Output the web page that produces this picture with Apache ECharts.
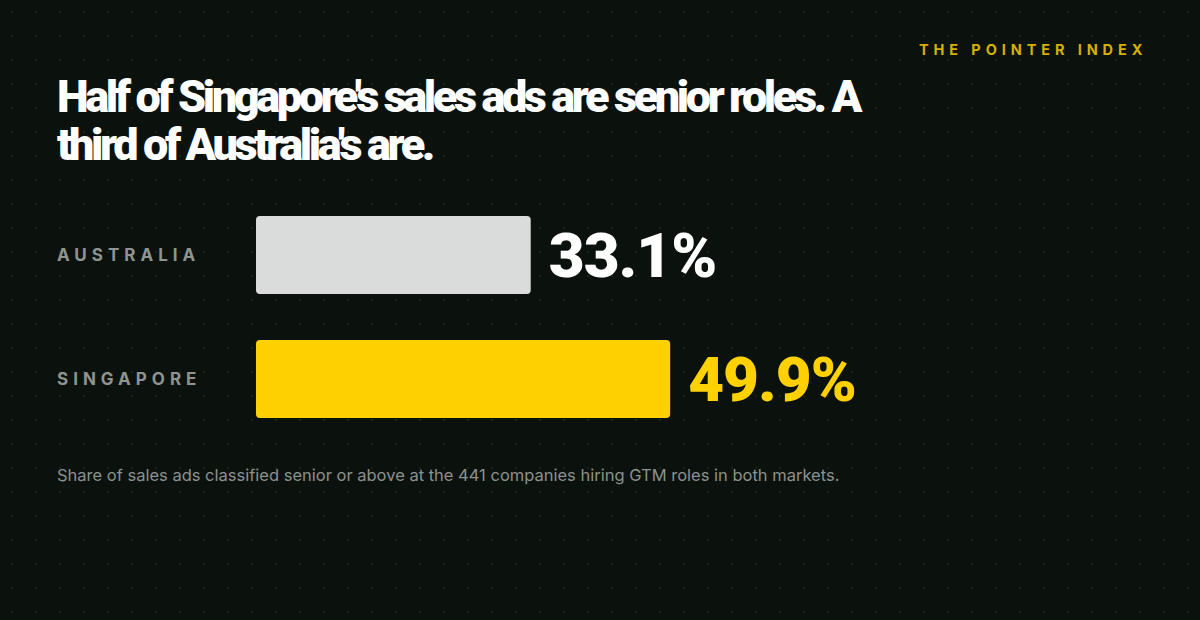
<!DOCTYPE html>
<html>
<head>
<meta charset="utf-8">
<script src="https://cdn.jsdelivr.net/npm/echarts@6/dist/echarts.min.js"></script>
<style>
  html, body { margin: 0; padding: 0; background: #0b120e; }
  #chart { width: 1200px; height: 620px; }
</style>
</head>
<body>
<div id="chart"></div>
<script>
// data
const markets = ['AUSTRALIA', 'SINGAPORE'];
const seniorShare = [33.1, 49.9];

const barColors = ['#d9dcda', '#ffd100'];
const labelColors = ['#ffffff', '#ffd100'];

// dotted background tile, 24px grid
function dotPattern() {
  let c = document.createElement('canvas');
  c.width = 24;
  c.height = 24;
  let ctx = c.getContext('2d');
  ctx.fillStyle = '#0b120e';
  ctx.fillRect(0, 0, 24, 24);
  ctx.fillStyle = '#1a2119';
  ctx.fillRect(11, 11, 2, 2);
  return c;
}

let chart = echarts.init(document.getElementById('chart'), null, { renderer: 'svg' });

let options = {
  backgroundColor: { image: dotPattern(), repeat: 'repeat' },
  animation: false,
  title: [
    {
      text: 'THE POINTER INDEX',
      left: 919,
      top: 42,
      padding: 0,
      textStyle: { color: '#d4b000', fontFamily: 'Inter', fontWeight: 700, fontSize: 14.5 },
    },
    {
      text: "Half of Singapore's sales ads are senior roles. A\nthird of Australia's are.",
      left: 57,
      top: 72,
      padding: 0,
      textStyle: {
        color: '#ffffff',
        fontFamily: 'Roboto',
        fontWeight: 900,
        fontSize: 45,
        lineHeight: 48,
      },
    },
    {
      text: 'Share of sales ads classified senior or above at the 441 companies hiring GTM roles in both markets.',
      left: 57,
      top: 466,
      padding: 0,
      textStyle: { color: '#8b918c', fontFamily: 'Inter', fontWeight: 400, fontSize: 16.5 },
    },
  ],
  grid: { left: 256, right: 114, top: 193, bottom: 179 },
  xAxis: { type: 'value', min: 0, max: 100, show: false },
  yAxis: {
    type: 'category',
    inverse: true,
    data: markets,
    axisLine: { show: false },
    axisTick: { show: false },
    axisLabel: {
      align: 'left',
      margin: 199,
      color: '#8f9490',
      fontFamily: 'Inter',
      fontWeight: 700,
      fontSize: 17,
    },
  },
  series: [
    {
      type: 'bar',
      barWidth: 78,
      data: seniorShare.map((v, i) => ({
        value: v,
        itemStyle: { color: barColors[i], borderRadius: 4 },
        label: { color: labelColors[i] },
      })),
      label: {
        show: true,
        position: 'right',
        distance: 18,
        formatter: (p) => p.value.toFixed(1) + '%',
        fontFamily: 'Roboto',
        fontWeight: 900,
        fontSize: 62,
      },
    },
  ],
};

chart.setOption(options);

// letter spacing, which echarts text has no option for
function trackingFor(s) {
  if (s === 'THE POINTER INDEX') return '4.9px';
  if (markets.includes(s)) return '5px';
  if (s.startsWith('Half of') || s.startsWith('third of')) return '-3.4px';
  if (s.endsWith('%')) return '-1px';
  return null;
}
function applyTracking() {
  document.querySelectorAll('#chart text').forEach((t) => {
    let sp = trackingFor(t.textContent.trim());
    if (sp) t.style.letterSpacing = sp;
  });
}
chart.on('finished', applyTracking);
applyTracking();
</script>
</body>
</html>
